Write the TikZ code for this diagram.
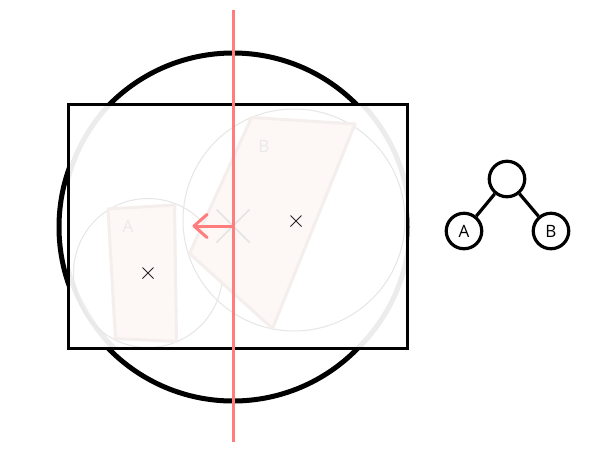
\documentclass[tikz,border=0pt]{standalone}
\usepackage{fontspec}
\setmainfont{Open Sans}
\definecolor{redline}{RGB}{255,125,125}
\definecolor{ghost}{RGB}{236,236,236}
\definecolor{thincirc}{RGB}{230,230,230}
\definecolor{quadfill}{RGB}{253,247,246}
\definecolor{quadedge}{RGB}{244,238,236}
\definecolor{ghostx}{RGB}{228,228,228}
\definecolor{ghosttext}{RGB}{234,234,234}
\tikzset{
  treenode/.style={circle, draw=black, line width=3.2pt, minimum size=35.5pt, inner sep=0pt, font=\fontsize{17}{17}\selectfont},
  treeedge/.style={draw=black, line width=3.2pt},
  quadshape/.style={fill=quadfill, draw=quadedge, line width=3pt, line join=round},
  thinring/.style={draw=thincirc, line width=1pt},
  crossmark/.style={draw=black!85, line width=1pt},
  redstroke/.style={draw=redline, line width=3pt},
  ghostlabel/.style={text=ghosttext, font=\fontsize{17}{17}\selectfont, inner sep=0pt}
}
\begin{document}
\begin{tikzpicture}[x=1pt,y=-1pt]
\useasboundingbox (0,0) rectangle (600,451);
% big black circle
\draw[line width=5pt] (233,227) circle[radius=174pt];
% rectangle fill
\fill[white] (68,104.5) rectangle (407.5,348.5);
\begin{scope}
  \clip (68,104.5) rectangle (407.5,348.5);
  \draw[ghost, line width=5pt] (236,224) circle[radius=174pt];
  \draw[thinring] (148,273) circle[radius=74.5pt];
  \draw[thinring] (294,220) circle[radius=111pt];
  \draw[quadshape] (108,209) -- (174.5,205) -- (176.5,341.5) -- (115.5,338.5) -- cycle;
  \draw[quadshape] (251.5,117.5) -- (355,124) -- (272.5,328.5) -- (189.5,253.5) -- cycle;
  \node[ghostlabel] (la) at (128,226) {A};
  \node[ghostlabel] (lb) at (264,146) {B};
  \draw[crossmark] (142.5,267.5) -- (153.5,278.5) (142.5,278.5) -- (153.5,267.5);
  \draw[crossmark] (290.5,215.5) -- (301.5,226.5) (290.5,226.5) -- (301.5,215.5);
  \draw[ghostx, line width=1.5pt] (216.5,209.5) -- (249.5,242.5) (216.5,242.5) -- (249.5,209.5);
\end{scope}
\draw[line width=3pt, line join=miter] (68,104.5) rectangle (407.5,348.5);
% red line and arrow
\coordinate (ltop) at (233,10);
\coordinate (lbot) at (233,442);
\coordinate (ctr) at (233,226);
\coordinate (tip) at (194,226);
\draw[redstroke] (ltop) -- (lbot);
\draw[redstroke] (ctr) -- (tip);
\draw[redstroke, line cap=round, line join=round] ([shift={(13,-11.5)}]tip) -- (tip) -- ([shift={(13,11.5)}]tip);
% tree
\node[treenode] (root) at (507,179) {};
\node[treenode] (na) at (464,231) {A};
\node[treenode] (nb) at (551,231) {B};
\draw[treeedge] (root) -- (na);
\draw[treeedge] (root) -- (nb);
\end{tikzpicture}
\end{document}
